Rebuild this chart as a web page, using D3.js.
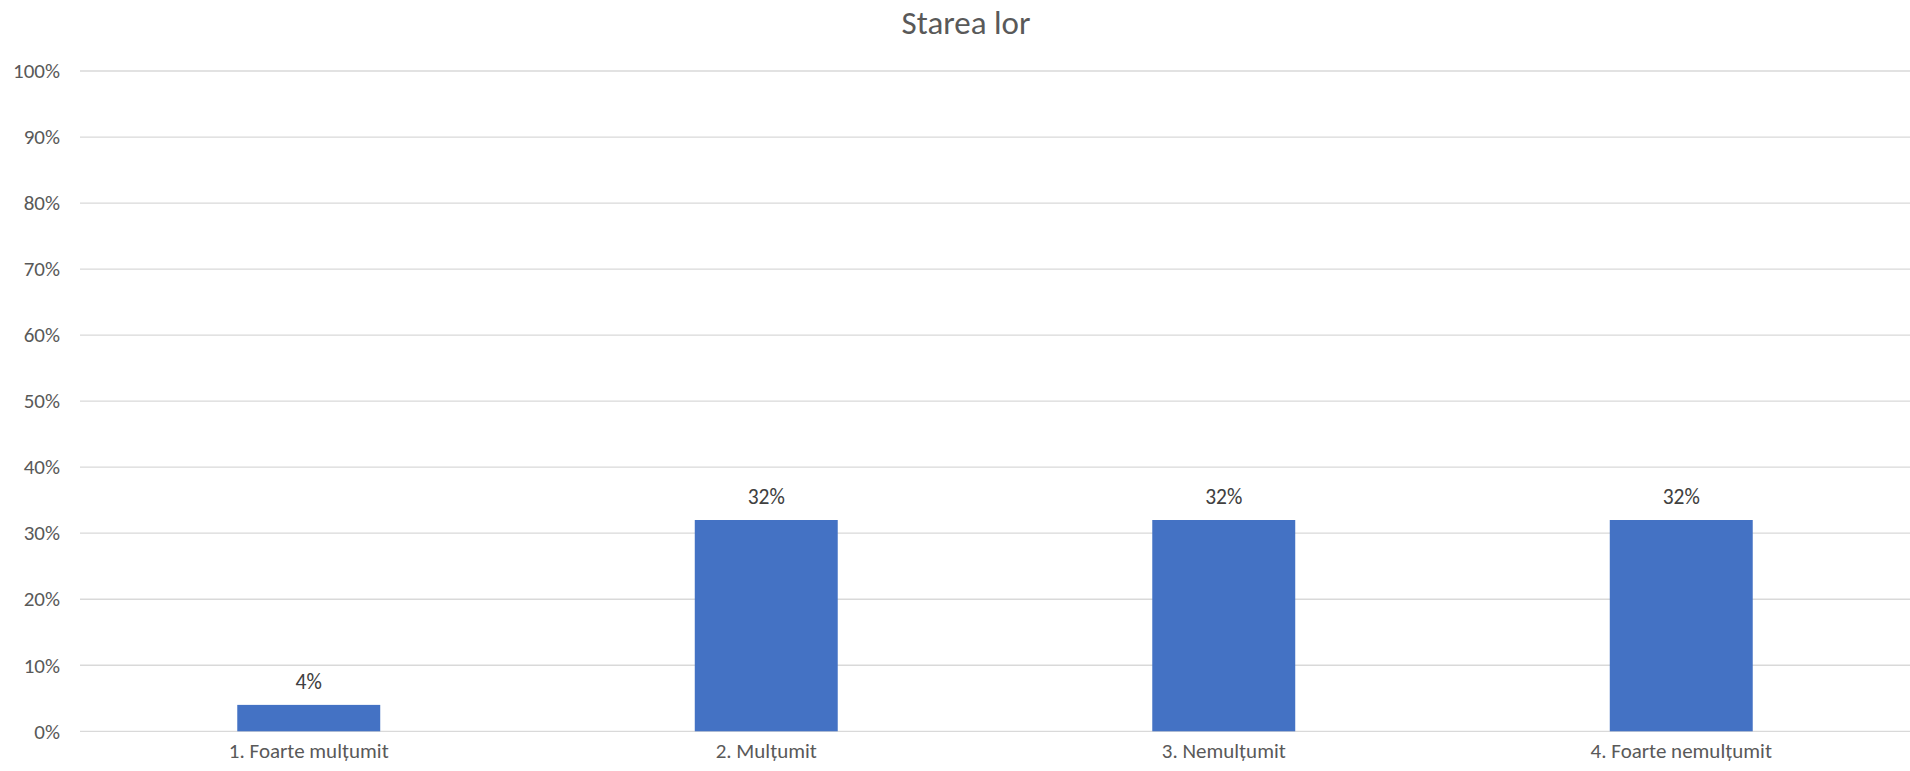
<!DOCTYPE html>
<html>
<head>
<meta charset="utf-8">
<script src="https://cdn.jsdelivr.net/npm/d3@7"></script>
<style>
  html, body { margin: 0; padding: 0; background: #fff; }
  svg { display: block; font-family: Calibri, Carlito, Lato, sans-serif; }
</style>
</head>
<body>
<svg id="chart" width="1910" height="771"></svg>
<script>
const title = "Starea lor";
const categories = ["1. Foarte mulțumit", "2. Mulțumit", "3. Nemulțumit", "4. Foarte nemulțumit"];
const values = [0.04, 0.32, 0.32, 0.32];
const valueLabels = ["4%", "32%", "32%", "32%"];
const yTicks = [0, 0.1, 0.2, 0.3, 0.4, 0.5, 0.6, 0.7, 0.8, 0.9, 1.0];

const svg = d3.select("#chart");
const margin = { left: 80, right: 0, top: 71, bottom: 771 - 731.3 };
const W = 1910, H = 771;

const x = d3.scaleBand()
  .domain(categories)
  .range([margin.left, W - margin.right])
  .paddingInner(0.6875)
  .paddingOuter(0.34375);

const y = d3.scaleLinear()
  .domain([0, 1])
  .range([H - margin.bottom, margin.top]);

// gridlines
svg.append("g")
  .selectAll("line")
  .data(yTicks)
  .join("line")
  .attr("x1", margin.left)
  .attr("x2", W - margin.right)
  .attr("y1", d => y(d))
  .attr("y2", d => y(d))
  .attr("stroke", "#D9D9D9")
  .attr("stroke-width", 1.3);

// y axis labels
const yAxis = d3.axisLeft(y).tickValues(yTicks).tickFormat(d3.format(".0%")).tickSize(0).tickPadding(0);
const yg = svg.append("g").attr("transform", `translate(${margin.left - 20},0)`).call(yAxis);
yg.select(".domain").remove();
yg.selectAll("text").attr("fill", "#595959").style("font-size", "21px").style("font-family", "Calibri, Carlito, Lato, sans-serif");

// bars
svg.append("g")
  .selectAll("rect")
  .data(values)
  .join("rect")
  .attr("x", (d, i) => x(categories[i]))
  .attr("width", x.bandwidth())
  .attr("y", d => y(d))
  .attr("height", d => y(0) - y(d))
  .attr("fill", "#4472C4");

// value labels
svg.append("g")
  .selectAll("text")
  .data(values)
  .join("text")
  .attr("x", (d, i) => x(categories[i]) + x.bandwidth() / 2)
  .attr("y", d => y(d) - 16)
  .attr("text-anchor", "middle")
  .attr("fill", "#404040")
  .style("font-size", "21.5px")
  .text((d, i) => valueLabels[i]);

// x axis labels
const xAxis = d3.axisBottom(x).tickSize(0).tickPadding(0);
const xg = svg.append("g").attr("transform", `translate(0,${y(0) + 12})`).call(xAxis);
xg.select(".domain").remove();
xg.selectAll("text").attr("fill", "#595959").attr("dy", "0.71em").style("font-size", "21px").style("font-family", "Calibri, Carlito, Lato, sans-serif");

// title
svg.append("text")
  .attr("x", 966)
  .attr("y", 34)
  .attr("text-anchor", "middle")
  .attr("fill", "#595959")
  .style("font-size", "33px")
  .text(title);
</script>
</body>
</html>
